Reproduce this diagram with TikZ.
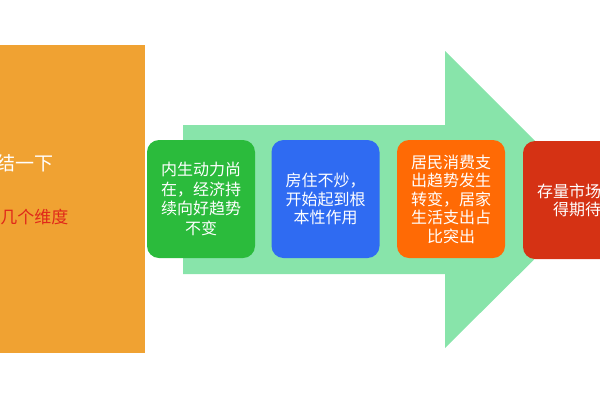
\documentclass[tikz,border=0pt]{standalone}
\usepackage{fontspec}
\setmainfont{Noto Sans CJK SC}
\definecolor{panelorange}{HTML}{F0A232}
\definecolor{dimred}{HTML}{E0281A}
\definecolor{arrowgreen}{HTML}{88E4AA}
\definecolor{boxgreen}{HTML}{2BBB3C}
\definecolor{boxblue}{HTML}{2F6BF2}
\definecolor{boxorange}{HTML}{FF6A05}
\definecolor{boxred}{HTML}{D53214}
\tikzset{
  stepbox/.style={rectangle, rounded corners=12pt, minimum width=108, minimum height=118,
    text=white, align=center, font=\fontsize{16}{19.5}\selectfont}
}
\begin{document}
\begin{tikzpicture}[x=1pt,y=-1pt]
\useasboundingbox (0,0) rectangle (600,400);
\clip (0,0) rectangle (600,400);

% --- Summary panel ---
\fill[panelorange] (0,45) rectangle (145,353);
\node (title_text) [anchor=east, text=white, font=\fontsize{19}{22}\selectfont] at (57,163) {结一下};
\node (dims_text) [anchor=east, text=dimred, font=\fontsize{17}{20}\selectfont] at (72,217) {几个维度};

% --- Big arrow ---
\fill[arrowgreen] (183,125) -- (445,125) -- (445,51) -- (594,200) -- (445,348) -- (445,274) -- (183,274) -- cycle;

% --- Steps along the arrow ---
\node (step_one) [stepbox, fill=boxgreen] at (201,199) {内生动力尚\\在，经济持\\续向好趋势\\不变};
\node (step_two) [stepbox, fill=boxblue, font=\fontsize{16}{18.5}\selectfont] at (325.5,199) {房住不炒，\\开始起到根\\本性作用};
\node (step_three) [stepbox, fill=boxorange, font=\fontsize{16}{18.5}\selectfont] at (451,199) {居民消费支\\出趋势发生\\转变，居家\\生活支出占\\比突出};
\node (step_four) [stepbox, fill=boxred, font=\fontsize{16}{18}\selectfont] at (577,200) {存量市场\hphantom{存}\\得期待};

\end{tikzpicture}
\end{document}
